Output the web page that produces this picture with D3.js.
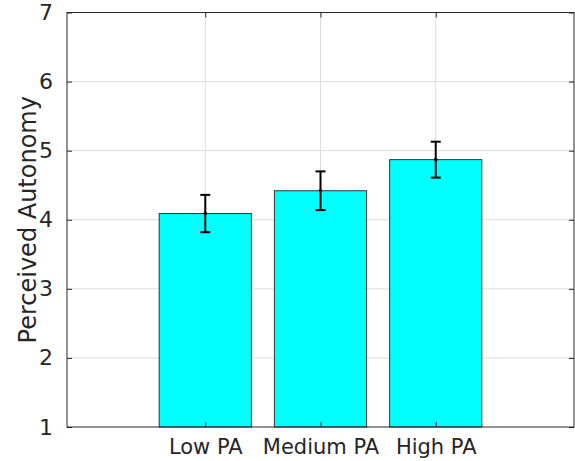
<!DOCTYPE html>
<html>
<head>
<meta charset="utf-8" />
<script src="https://cdn.jsdelivr.net/npm/d3@7"></script>
<style>
  body { margin: 0; background: #fff; }
  text { font-family: "DejaVu Sans", sans-serif; fill: #262626; }
</style>
</head>
<body>
<div id="chart"></div>
<script>
var categories = ["Low PA", "Medium PA", "High PA"];
var means = [4.09, 4.42, 4.87];
var errors = [0.27, 0.28, 0.26];
var yTicks = [1, 2, 3, 4, 5, 6, 7];

var W = 575, H = 461;
var margin = { top: 12.5, right: 1, bottom: 34, left: 67 };
var width = W - margin.left - margin.right,
    height = H - margin.top - margin.bottom;

var svg = d3.select("#chart").append("svg")
    .attr("width", W)
    .attr("height", H);

var g = svg.append("g")
    .attr("transform", "translate(" + margin.left + "," + margin.top + ")");

var x = d3.scaleLinear().domain([-0.2, 4.2]).range([0, width]);
var y = d3.scaleLinear().domain([1, 7]).range([height, 0]);

// grid
g.append("g").selectAll("line.gy")
    .data(yTicks.slice(1, -1))
    .enter().append("line")
    .attr("x1", 0).attr("x2", width)
    .attr("y1", function (d) { return y(d); })
    .attr("y2", function (d) { return y(d); })
    .attr("stroke", "#dcdcdc").attr("stroke-width", 1);

g.append("g").selectAll("line.gx")
    .data(categories)
    .enter().append("line")
    .attr("x1", function (d, i) { return x(i + 1); })
    .attr("x2", function (d, i) { return x(i + 1); })
    .attr("y1", 0).attr("y2", height)
    .attr("stroke", "#dcdcdc").attr("stroke-width", 1);

// bars
g.append("g").selectAll("rect")
    .data(means)
    .enter().append("rect")
    .attr("x", function (d, i) { return x(i + 1 - 0.4); })
    .attr("width", x(0.8) - x(0))
    .attr("y", function (d) { return y(d); })
    .attr("height", function (d) { return y(1) - y(d); })
    .attr("fill", "#00ffff")
    .attr("stroke", "#333")
    .attr("stroke-width", 1);

// error bars
var eb = g.append("g").selectAll("g")
    .data(means)
    .enter().append("g")
    .attr("stroke", "#000")
    .attr("stroke-width", 2);

eb.append("line")
    .attr("x1", function (d, i) { return x(i + 1); })
    .attr("x2", function (d, i) { return x(i + 1); })
    .attr("y1", function (d, i) { return y(d - errors[i]); })
    .attr("y2", function (d, i) { return y(d + errors[i]); });
eb.append("line")
    .attr("x1", function (d, i) { return x(i + 1) - 5; })
    .attr("x2", function (d, i) { return x(i + 1) + 5; })
    .attr("y1", function (d, i) { return y(d + errors[i]); })
    .attr("y2", function (d, i) { return y(d + errors[i]); });
eb.append("line")
    .attr("x1", function (d, i) { return x(i + 1) - 5; })
    .attr("x2", function (d, i) { return x(i + 1) + 5; })
    .attr("y1", function (d, i) { return y(d - errors[i]); })
    .attr("y2", function (d, i) { return y(d - errors[i]); });
eb.append("circle")
    .attr("cx", function (d, i) { return x(i + 1); })
    .attr("cy", function (d) { return y(d); })
    .attr("r", 1.8)
    .attr("fill", "#000")
    .attr("stroke", "none");

// axes
var yAxis = d3.axisLeft(y).tickValues(yTicks).tickFormat(d3.format("d")).tickSize(-5).tickPadding(14);
var yAxisR = d3.axisRight(y).tickValues(yTicks).tickSize(-5).tickFormat("");
var xAxis = d3.axisBottom(x).tickValues([1, 2, 3]).tickSize(-5).tickPadding(12)
    .tickFormat(function (d) { return categories[d - 1]; });
var xAxisT = d3.axisTop(x).tickValues([1, 2, 3]).tickSize(-5).tickFormat("");

function style(sel) {
    sel.selectAll("path").attr("stroke", "#262626").attr("stroke-width", 1);
    sel.selectAll("line").attr("stroke", "#262626");
    sel.selectAll("text").style("font-family", "DejaVu Sans").attr("fill", "#262626");
}

g.append("g").call(yAxis).call(style)
    .selectAll("text").style("font-size", "22px");
g.append("g").attr("transform", "translate(" + width + ",0)").call(yAxisR).call(style);
g.append("g").attr("transform", "translate(0," + height + ")").call(xAxis).call(style)
    .selectAll("text").style("font-size", "21px");
g.append("g").call(xAxisT).call(style);
g.selectAll(".domain").attr("d", null);
g.append("rect")
    .attr("width", width).attr("height", height)
    .attr("fill", "none").attr("stroke", "#262626").attr("stroke-width", 1);

svg.append("text")
    .attr("transform", "translate(36," + (margin.top + height / 2) + ") rotate(-90)")
    .attr("text-anchor", "middle")
    .style("font-size", "24px")
    .text("Perceived Autonomy");
</script>
</body>
</html>
